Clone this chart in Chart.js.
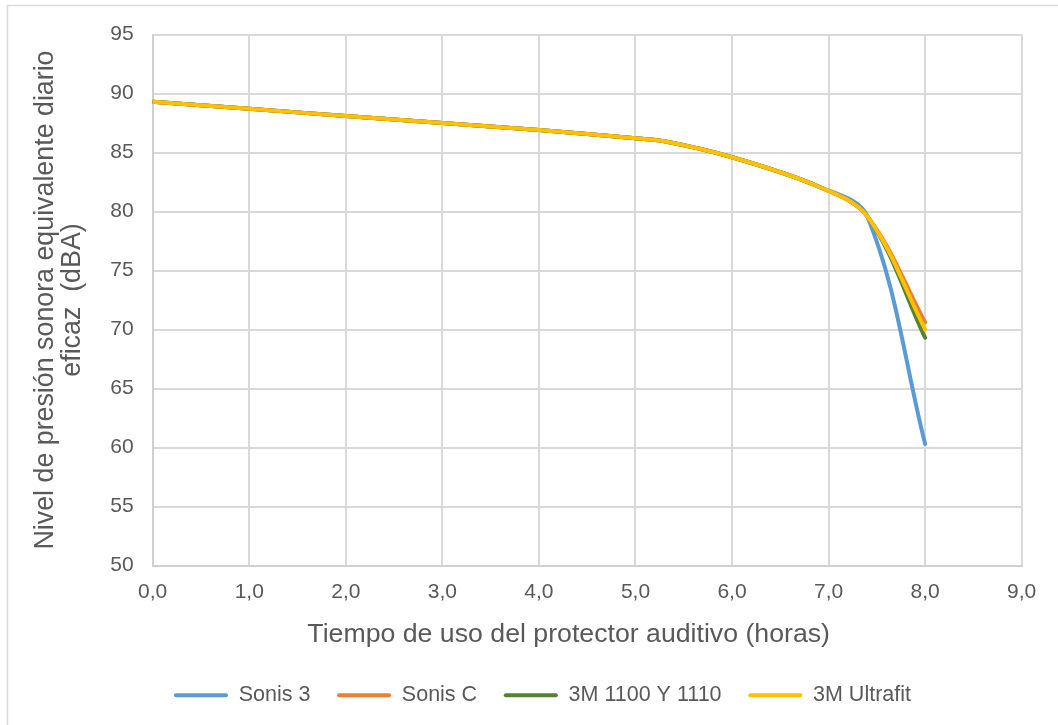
<!DOCTYPE html>
<html lang="es">
<head>
<meta charset="utf-8">
<title>Nivel de presión sonora equivalente diario eficaz</title>
<script src="https://cdn.jsdelivr.net/npm/chart.js@4.4.1/dist/chart.umd.min.js"></script>
<style>
  html, body { margin: 0; padding: 0; background: #ffffff; }
  #wrap { width: 1058px; height: 725px; }
</style>
</head>
<body>
<div id="wrap"><canvas id="chart" width="1058" height="725"></canvas></div>
<script>
// Horas de uso del protector auditivo
const horas = [0, 1, 2, 3, 4, 5, 5.3, 6, 6.9, 7.4, 8];

// Nivel equivalente diario eficaz (dBA) por protector
const sonis3      = [89.3, 88.7, 88.1, 87.5, 86.9, 86.2, 85.95, 84.6, 82.1, 79.6, 60.3];
const sonisC      = [89.3, 88.7, 88.1, 87.5, 86.9, 86.2, 85.95, 84.6, 82.1, 79.6, 70.6];
const m1100       = [89.3, 88.7, 88.1, 87.5, 86.9, 86.2, 85.95, 84.6, 82.1, 79.6, 69.3];
const ultrafit    = [89.3, 88.7, 88.1, 87.5, 86.9, 86.2, 85.95, 84.6, 82.1, 79.6, 70.0];

const nombres = ['Sonis 3', 'Sonis C', '3M 1100 Y 1110', '3M Ultrafit'];
const colores = ['#5B9BD5', '#ED7D31', '#548235', '#FFC000'];

// Ejes
const xTicks = [0, 1, 2, 3, 4, 5, 6, 7, 8, 9];
const yTicks = [50, 55, 60, 65, 70, 75, 80, 85, 90, 95];

const FONT = '"Liberation Sans", Arial, Helvetica, sans-serif';
const TEXT = '#595959';
const GRID = '#D9D9D9';

function puntos(valores) {
  return horas.map((h, i) => ({ x: h, y: valores[i] }));
}

const series = [sonis3, sonisC, m1100, ultrafit];
const datasets = series.map((vals, i) => ({
  label: nombres[i],
  data: puntos(vals),
  borderColor: colores[i],
  backgroundColor: colores[i],
  borderWidth: 4,
  pointRadius: 0,
  pointHoverRadius: 0,
  fill: false,
  tension: 0.35,
  borderCapStyle: 'round',
  borderJoinStyle: 'round',
  order: series.length - i   // la última serie queda dibujada encima
}));

// Marco exterior del gráfico y fondo blanco
const marco = {
  id: 'marco',
  beforeDraw(chart) {
    const ctx = chart.ctx;
    ctx.save();
    ctx.fillStyle = '#ffffff';
    ctx.fillRect(0, 0, chart.width, chart.height);
    ctx.strokeStyle = GRID;
    ctx.lineWidth = 1.5;
    ctx.strokeRect(7.5, 5.5, chart.width + 20, chart.height + 20);
    ctx.restore();
  }
};

// Desplaza la leyenda hacia la derecha dentro del marco
const LEYENDA_DX = 31.6;
const leyendaDesplazada = {
  id: 'leyendaDesplazada',
  afterLayout(chart) {
    if (chart.legend) {
      chart.legend.left += LEYENDA_DX;
      chart.legend.right += LEYENDA_DX;
    }
  }
};

new Chart(document.getElementById('chart'), {
  type: 'line',
  data: { datasets },
  plugins: [marco, leyendaDesplazada],
  options: {
    responsive: false,
    animation: false,
    events: [],
    layout: { padding: { left: 0, top: 34.5, right: 36.3, bottom: 9 } },
    plugins: {
      tooltip: { enabled: false },
      legend: {
        position: 'bottom',
        align: 'center',
        labels: {
          sort: (a, b) => a.datasetIndex - b.datasetIndex,
          boxWidth: 54,
          boxHeight: 4,
          padding: 26.7,
          color: TEXT,
          font: { family: FONT, size: 21.5 },
          useBorderRadius: true,
          borderRadius: 2,
          generateLabels(chart) {
            const items = Chart.defaults.plugins.legend.labels.generateLabels(chart);
            items.forEach(it => {
              it.fillStyle = colores[it.datasetIndex];
              it.strokeStyle = colores[it.datasetIndex];
              it.lineWidth = 0;
            });
            return items;
          }
        }
      }
    },
    scales: {
      x: {
        type: 'linear',
        min: 0,
        max: 9,
        afterBuildTicks(scale) { scale.ticks = xTicks.map(v => ({ value: v })); },
        afterFit(scale) { scale.height = 92.3; },
        ticks: {
          color: TEXT,
          padding: 14,
          font: { family: FONT, size: 21 },
          maxRotation: 0,
          callback: v => v.toFixed(1).replace('.', ',')
        },
        grid: { color: GRID, lineWidth: 2, drawTicks: false },
        border: { color: '#D0D0D0', width: 2 },
        title: {
          display: true,
          text: 'Tiempo de uso del protector auditivo (horas)     ',
          color: TEXT,
          font: { family: FONT, size: 26.7, lineHeight: 1.2 },
          padding: { top: 0, bottom: 7 }
        }
      },
      y: {
        type: 'linear',
        min: 50,
        max: 95,
        afterBuildTicks(scale) { scale.ticks = yTicks.map(v => ({ value: v })); },
        afterFit(scale) { scale.width = 152.7; },
        ticks: {
          color: TEXT,
          padding: 19,
          font: { family: FONT, size: 21 }
        },
        grid: { color: GRID, lineWidth: 2, drawTicks: false },
        border: { color: '#D0D0D0', width: 2 },
        title: {
          display: true,
          text: ['Nivel de presión sonora equivalente diario', 'eficaz  (dBA)'],
          color: TEXT,
          font: { family: FONT, size: 26.8, lineHeight: 1.02 },
          padding: { top: 32, bottom: 0 }
        }
      }
    }
  }
});
</script>
</body>
</html>
